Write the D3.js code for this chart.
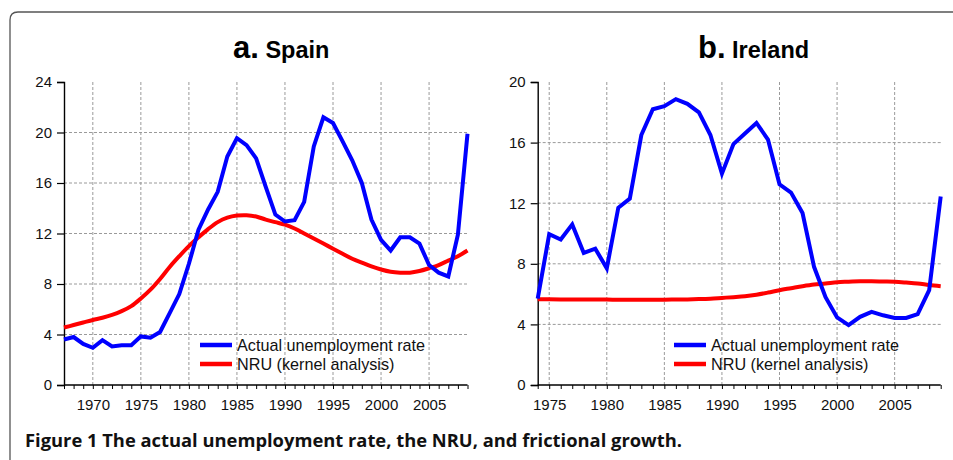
<!DOCTYPE html>
<html><head><meta charset="utf-8">
<script src="https://cdn.jsdelivr.net/npm/d3@7"></script>
<style>body{margin:0;background:#fff}svg{display:block}</style>
</head><body>
<svg id="c" width="953" height="460"></svg>
<script>
// ---------- data ----------
const spainYears = d3.range(1967, 2010);
const spainActual = [3.6,3.8,3.25,2.95,3.55,3.05,3.15,3.15,3.85,3.75,4.2,5.7,7.2,9.6,12.3,13.9,15.3,18.1,19.55,19.0,17.95,15.7,13.5,12.95,13.05,14.5,18.9,21.2,20.75,19.3,17.8,16.0,13.1,11.5,10.65,11.7,11.7,11.2,9.5,8.9,8.6,11.9,19.9];
const spainNRU = [4.55,4.75,4.95,5.15,5.33,5.55,5.85,6.25,6.85,7.55,8.4,9.35,10.2,11.0,11.7,12.35,12.9,13.25,13.42,13.45,13.35,13.1,12.9,12.7,12.4,12.0,11.6,11.2,10.8,10.4,10.0,9.7,9.4,9.15,8.97,8.9,8.9,9.03,9.25,9.5,9.85,10.2,10.65];
const irelandYears = d3.range(1974, 2010);
const irelandActual = [5.7,9.95,9.6,10.6,8.72,9.0,7.7,11.7,12.3,16.5,18.2,18.4,18.87,18.56,18.0,16.5,13.95,15.9,16.6,17.3,16.2,13.25,12.7,11.35,7.8,5.8,4.46,3.95,4.5,4.83,4.6,4.43,4.43,4.68,6.26,12.45];
const irelandNRU = [5.66,5.66,5.65,5.65,5.65,5.64,5.64,5.63,5.63,5.63,5.63,5.63,5.64,5.65,5.67,5.7,5.75,5.8,5.86,5.96,6.1,6.26,6.39,6.52,6.63,6.7,6.79,6.82,6.85,6.85,6.83,6.81,6.76,6.7,6.6,6.52];
const spainYTicks = [0,4,8,12,16,20,24];
const irelandYTicks = [0,4,8,12,16,20];
const spainXTicks = [1970,1975,1980,1985,1990,1995,2000,2005];
const irelandXTicks = [1975,1980,1985,1990,1995,2000,2005];
const legendLabels = ["Actual unemployment rate","NRU (kernel analysis)"];
const seriesColors = ["#0000ff","#ff0000"];
const caption = "Figure 1 The actual unemployment rate, the NRU, and frictional growth.";

// ---------- drawing ----------
const svg = d3.select("#c");
const FONT = "'Liberation Sans', Arial, Helvetica, sans-serif";

// frame
svg.append("path")
  .attr("d","M10,470 L10,20 Q10,12 18,12 L960,12")
  .attr("fill","none").attr("stroke","#555").attr("stroke-width",1.3);

function panel(cfg){
  const g = svg.append("g");
  const x = d3.scaleLinear().domain(cfg.xDomain).range([cfg.x0, cfg.x1]);
  const y = d3.scaleLinear().domain(cfg.yDomain).range([cfg.yBottom, cfg.yTop]);

  // grid
  g.append("g").selectAll("line").data(cfg.yTicks.filter(t=>t>cfg.yDomain[0] && t<cfg.yDomain[1]))
    .join("line").attr("x1",cfg.x0).attr("x2",cfg.x1).attr("y1",d=>y(d)).attr("y2",d=>y(d))
    .attr("stroke","#9a9a9a").attr("stroke-width",1).attr("stroke-dasharray","3,2");
  g.append("g").selectAll("line").data(cfg.xTicks)
    .join("line").attr("x1",d=>x(d)).attr("x2",d=>x(d)).attr("y1",cfg.yTop).attr("y2",cfg.yBottom)
    .attr("stroke","#9a9a9a").attr("stroke-width",1).attr("stroke-dasharray","3,2");

  // y axis
  const ya = g.append("g").attr("transform",`translate(${cfg.x0},0)`)
    .call(d3.axisLeft(y).tickValues(cfg.yTicks).tickSize(7).tickPadding(5).tickFormat(d3.format("d")));
  ya.select(".domain").attr("stroke","#000").attr("stroke-width",1.4);
  ya.selectAll(".tick line").attr("stroke","#000").attr("stroke-width",1.2);
  ya.selectAll("text").attr("font-family",FONT).attr("font-size","15px").attr("fill","#111");

  // x axis: minor ticks every year, labels at major years
  const xa = g.append("g").attr("transform",`translate(0,${cfg.yBottom})`)
    .call(d3.axisBottom(x).tickValues(d3.range(cfg.xDomain[0], cfg.xDomain[1]+1)).tickSize(4).tickPadding(10)
      .tickFormat(d => cfg.xTicks.includes(d) ? String(d) : ""));
  xa.select(".domain").attr("stroke","#000").attr("stroke-width",1.4).attr("d",`M${cfg.x0},0H${cfg.x1}`);
  xa.selectAll(".tick line").attr("stroke","#000").attr("stroke-width",1);
  xa.selectAll("text").attr("font-family",FONT).attr("font-size","15px").attr("fill","#111");

  // lines
  const actual = cfg.years.map((yr,i)=>[yr, cfg.actual[i]]);
  const nru = cfg.years.map((yr,i)=>[yr, cfg.nru[i]]);
  g.append("path").datum(nru)
    .attr("d", d3.line().x(d=>x(d[0])).y(d=>y(d[1])).curve(d3.curveCatmullRom))
    .attr("fill","none").attr("stroke",seriesColors[1]).attr("stroke-width",4);
  g.append("path").datum(actual)
    .attr("d", d3.line().x(d=>x(d[0])).y(d=>y(d[1])))
    .attr("fill","none").attr("stroke",seriesColors[0]).attr("stroke-width",4).attr("stroke-linejoin","miter");

  // legend
  legendLabels.forEach((lab,i)=>{
    const ly = cfg.legY + i*19;
    g.append("line").attr("x1",cfg.legX).attr("x2",cfg.legX+32).attr("y1",ly).attr("y2",ly)
      .attr("stroke",seriesColors[i]).attr("stroke-width",4.5);
    g.append("text").attr("x",cfg.legX+37).attr("y",ly+5.8).text(lab)
      .attr("font-family",FONT).attr("font-size","16.2px").attr("fill","#111");
  });

  // title
  const t = g.append("text").attr("x",cfg.titleX).attr("y",58).attr("font-family",FONT).attr("font-weight","bold").attr("fill","#000");
  t.append("tspan").text(cfg.letter).attr("font-size","31px");
  t.append("tspan").text(" "+cfg.name).attr("font-size","23.5px");
}

panel({xDomain:[1967,2009], yDomain:[0,24], x0:64, x1:467.5, yTop:82, yBottom:385,
  years:spainYears, actual:spainActual, nru:spainNRU, yTicks:spainYTicks, xTicks:spainXTicks,
  legX:200, legY:345, titleX:233, letter:"a.", name:"Spain"});
panel({xDomain:[1974,2009], yDomain:[0,20], x0:537.7, x1:940.7, yTop:82, yBottom:385,
  years:irelandYears, actual:irelandActual, nru:irelandNRU, yTicks:irelandYTicks, xTicks:irelandXTicks,
  legX:674, legY:345, titleX:698, letter:"b.", name:"Ireland"});

// caption
svg.append("text").attr("x",25).attr("y",447).text(caption)
  .attr("font-family","'Open Sans', 'Noto Sans', sans-serif").attr("font-weight","bold")
  .attr("font-size","18.5px").attr("fill","#111")
  .attr("textLength",657).attr("lengthAdjust","spacingAndGlyphs");
</script>
</body></html>
